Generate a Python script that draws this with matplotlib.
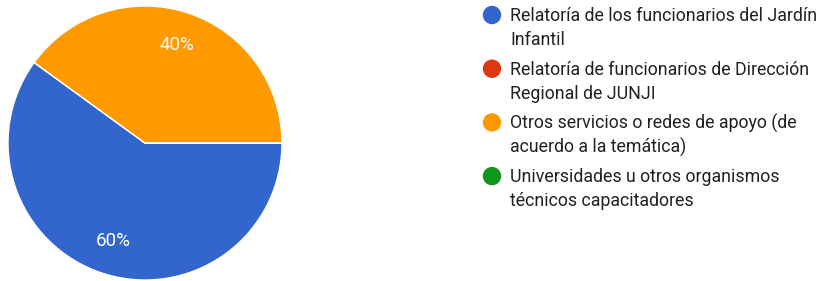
import matplotlib.pyplot as plt
from matplotlib.patches import Circle

labels = [
    ['Relatoría de los funcionarios del Jardín', 'Infantil'],
    ['Relatoría de funcionarios de Dirección', 'Regional de JUNJI'],
    ['Otros servicios o redes de apoyo (de', 'acuerdo a la temática)'],
    ['Universidades u otros organismos', 'técnicos capacitadores'],
]
values = [60, 0, 40, 0]
colors = ['#3366CC', '#DC3912', '#FF9900', '#109618']

plt.rcParams['font.family'] = ['Roboto', 'DejaVu Sans']

W, H = 830, 281
fig = plt.figure(figsize=(W / 100, H / 100), dpi=100)

ax = fig.add_axes([8 / W, 1 / H, 274 / W, 274 / H])
wedges, texts, autotexts = ax.pie(
    values, colors=colors, startangle=0, counterclock=False,
    autopct=lambda p: '%d%%' % round(p) if p > 0 else '',
    pctdistance=0.75, radius=1,
    wedgeprops=dict(edgecolor='white', linewidth=1),
    textprops=dict(color='white', fontsize=13.5))
ax.set_xlim(-1, 1)
ax.set_ylim(-1, 1)
ax.set_aspect('equal')

# legend drawn in pixel coordinates
lax = fig.add_axes([0, 0, 1, 1])
lax.set_xlim(0, W)
lax.set_ylim(H, 0)
lax.axis('off')
for i, (lines, c) in enumerate(zip(labels, colors)):
    y = 15 + i * 53.7
    lax.add_patch(Circle((492, y), 8.5, color=c))
    for j, line in enumerate(lines):
        lax.text(510, y + j * 24 + 1, line, fontsize=12.8, color='#212121',
                 va='center', ha='left')

fig.savefig('out.png', dpi=100)
